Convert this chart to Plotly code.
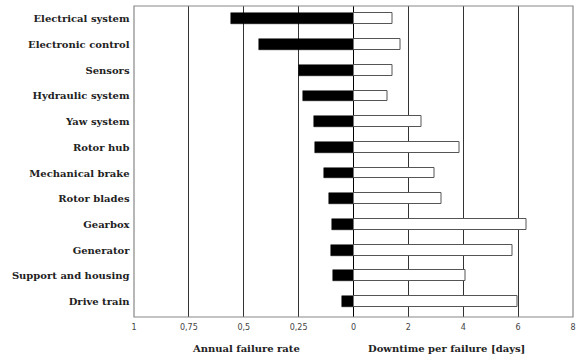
import plotly.graph_objects as go

categories = ["Electrical system", "Electronic control", "Sensors", "Hydraulic system",
              "Yaw system", "Rotor hub", "Mechanical brake", "Rotor blades",
              "Gearbox", "Generator", "Support and housing", "Drive train"]
failure_rate = [0.56, 0.43, 0.25, 0.23, 0.18, 0.175, 0.135, 0.113, 0.10, 0.103, 0.093, 0.052]
downtime = [1.42, 1.72, 1.42, 1.25, 2.49, 3.85, 2.95, 3.2, 6.32, 5.81, 4.07, 5.99]

rate_ticks = [1, 0.75, 0.5, 0.25]
rate_tick_text = ["1", "0,75", "0,5", "0,25"]
days_ticks = [0, 2, 4, 6, 8]
days_tick_text = ["0", "2", "4", "6", "8"]

serif = "DejaVu Serif"
tickfont = dict(family="DejaVu Sans", size=8, color="#444")

fig = go.Figure()
fig.add_trace(go.Bar(y=categories, x=failure_rate, orientation="h", xaxis="x", yaxis="y",
                     marker=dict(color="black", line=dict(color="black", width=0.5)),
                     width=0.42, showlegend=False))
fig.add_trace(go.Bar(y=categories, x=downtime, orientation="h", xaxis="x2", yaxis="y",
                     marker=dict(color="white", line=dict(color="#555", width=1)),
                     width=0.42, showlegend=False))

fig.update_layout(
    width=578, height=360,
    margin=dict(l=134, r=5, t=6, b=43, autoexpand=False),
    paper_bgcolor="white", plot_bgcolor="white",
    bargap=0,
    xaxis=dict(domain=[0, 0.5], range=[1, 0], tickvals=rate_ticks, ticktext=rate_tick_text,
               showgrid=True, gridcolor="#333", gridwidth=1, zeroline=False,
               tickfont=tickfont, ticks="", showline=False, automargin=False,
               ticklabelstandoff=4),
    xaxis2=dict(domain=[0.5, 1], range=[0, 8], tickvals=days_ticks, ticktext=days_tick_text,
                showgrid=True, gridcolor="#333", gridwidth=1, zeroline=True,
                zerolinecolor="black", zerolinewidth=1.2, automargin=False,
                tickfont=tickfont, ticks="", showline=False, anchor="y",
                ticklabelstandoff=4),
    yaxis=dict(categoryorder="array", categoryarray=categories, autorange=False,
               range=[11.6, -0.5], showgrid=False, zeroline=False, ticks="",
               ticksuffix=" ", automargin=False,
               tickfont=dict(family=serif, size=10, color="#222", weight="bold")),
    shapes=[dict(type="rect", xref="paper", yref="paper", x0=0, x1=1, y0=0, y1=1,
                 line=dict(color="#888", width=1.2), layer="above")],
    annotations=[
        dict(text="<b>Annual failure rate</b>", xref="x", yref="paper", x=0.49, y=0,
             yshift=-31, showarrow=False, yanchor="middle",
             font=dict(family=serif, size=10, color="#222")),
        dict(text="<b>Downtime per failure [days]</b>", xref="x2", yref="paper", x=3.4, y=0,
             yshift=-31, showarrow=False, yanchor="middle",
             font=dict(family=serif, size=10, color="#222")),
    ],
)

fig.write_html("out.html", config={"displayModeBar": False},
               post_script="document.body.style.margin='0';document.body.style.overflow='hidden';")
